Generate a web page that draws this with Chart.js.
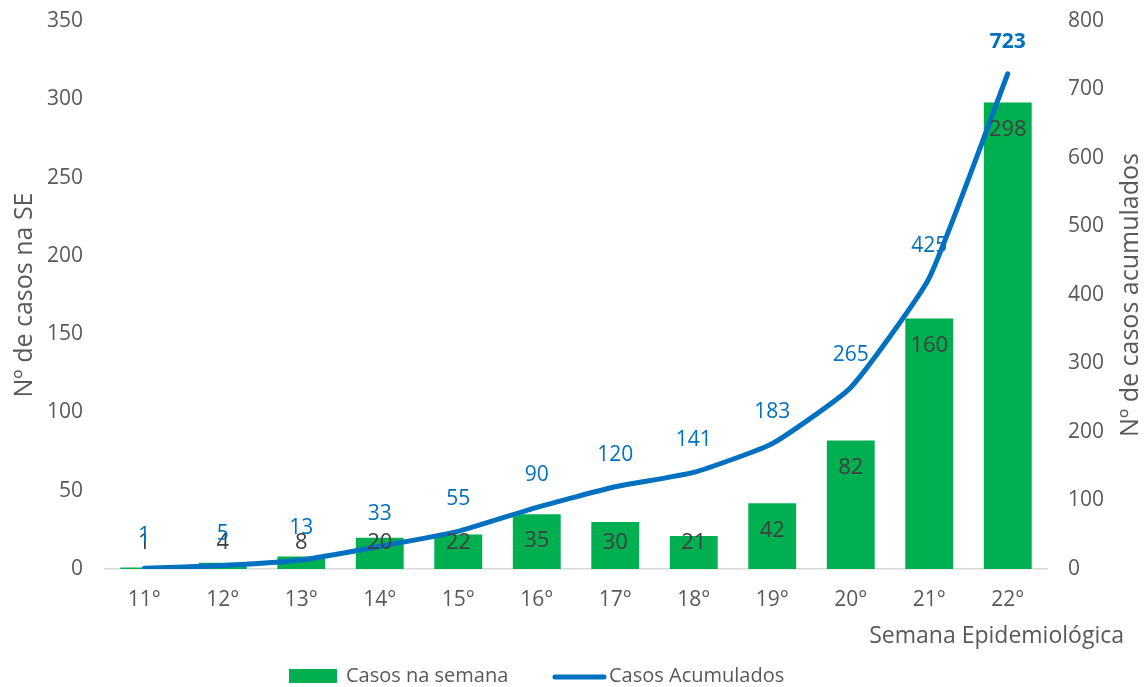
<!DOCTYPE html>
<html lang="pt">
<head>
<meta charset="utf-8">
<title>Casos por semana epidemiológica</title>
<script src="https://cdn.jsdelivr.net/npm/chart.js@4.4.1/dist/chart.umd.min.js"></script>
<style>
  html, body { margin: 0; padding: 0; background: #ffffff; }
  #wrap { width: 1148px; height: 687px; }
</style>
</head>
<body>
<div id="wrap"><canvas id="chart" width="1148" height="687"></canvas></div>
<script>
// Semanas epidemiológicas e casos
const semanas = ['11°', '12°', '13°', '14°', '15°', '16°', '17°', '18°', '19°', '20°', '21°', '22°'];
const casosSemana = [1, 4, 8, 20, 22, 35, 30, 21, 42, 82, 160, 298];
const casosAcumulados = [1, 5, 13, 33, 55, 90, 120, 141, 183, 265, 425, 723];

const FONT = '"Open Sans", "Liberation Sans", sans-serif';
const GREEN = '#00B050';
const BLUE = '#0070C0';
const TEXT = '#595959';
const LABEL_DARK = '#404040';

// Value labels, axis titles and legend drawn on the canvas
const decorations = {
  id: 'decorations',
  afterDatasetsDraw(chart) {
    const ctx = chart.ctx;
    const area = chart.chartArea;
    const barMeta = chart.getDatasetMeta(0);
    const lineMeta = chart.getDatasetMeta(1);
    ctx.save();
    ctx.textAlign = 'center';
    ctx.textBaseline = 'middle';

    // bar labels, just inside the top of each bar
    ctx.font = '22px ' + FONT;
    ctx.fillStyle = LABEL_DARK;
    barMeta.data.forEach((bar, i) => {
      const y = Math.min(bar.y + 27, area.bottom - 26);
      ctx.fillText(String(casosSemana[i]), bar.x, y);
    });

    // cumulative labels, above each point; last one in bold
    ctx.fillStyle = BLUE;
    lineMeta.data.forEach((pt, i) => {
      const last = i === lineMeta.data.length - 1;
      ctx.font = (last ? 'bold ' : '') + '21px ' + FONT;
      ctx.fillText(String(casosAcumulados[i]), pt.x, pt.y - 32);
    });
    ctx.restore();
  },
  afterDraw(chart) {
    const ctx = chart.ctx;
    const area = chart.chartArea;
    const midY = (area.top + area.bottom) / 2;
    ctx.save();
    ctx.fillStyle = TEXT;
    ctx.font = '25px ' + FONT;
    ctx.textBaseline = 'middle';
    ctx.textAlign = 'center';

    // left axis title
    ctx.save();
    ctx.translate(25, midY);
    ctx.rotate(-Math.PI / 2);
    ctx.fillText('Nº de casos na SE', 0, 0);
    ctx.restore();

    // right axis title
    ctx.save();
    ctx.translate(1131, midY);
    ctx.rotate(-Math.PI / 2);
    ctx.fillText('Nº de casos acumulados', 0, 0);
    ctx.restore();

    // x axis title
    ctx.font = '23px ' + FONT;
    ctx.textAlign = 'right';
    ctx.fillText('Semana Epidemiológica', 1124, 636);

    // legend
    const ly = 676;
    ctx.font = '20px ' + FONT;
    ctx.textAlign = 'left';
    ctx.fillStyle = GREEN;
    ctx.fillRect(289, ly - 7, 48, 14);
    ctx.fillStyle = TEXT;
    ctx.fillText('Casos na semana', 346, ly);

    ctx.strokeStyle = BLUE;
    ctx.lineWidth = 5;
    ctx.lineCap = 'round';
    ctx.beginPath();
    ctx.moveTo(555, ly + 1);
    ctx.lineTo(604, ly + 1);
    ctx.stroke();
    ctx.fillText('Casos Acumulados', 609, ly);
    ctx.restore();
  }
};

// fixed axis box sizes so the plot area sits at the same place
function fixVertical(width) {
  return function (scale) {
    scale.width = width;
    scale.paddingTop = 0;
    scale.paddingBottom = 0;
  };
}

new Chart(document.getElementById('chart'), {
  data: {
    labels: semanas,
    datasets: [
      {
        type: 'bar',
        label: 'Casos na semana',
        data: casosSemana,
        backgroundColor: GREEN,
        borderWidth: 0,
        yAxisID: 'y',
        order: 1,
        categoryPercentage: 1,
        barPercentage: 0.61
      },
      {
        type: 'line',
        label: 'Casos Acumulados',
        data: casosAcumulados,
        borderColor: BLUE,
        backgroundColor: BLUE,
        borderWidth: 5,
        borderCapStyle: 'round',
        borderJoinStyle: 'round',
        pointRadius: 0,
        pointHoverRadius: 0,
        tension: 0.15,
        fill: false,
        yAxisID: 'y1',
        order: 0
      }
    ]
  },
  options: {
    responsive: false,
    animation: false,
    layout: { padding: { top: 21, left: 0, right: 0, bottom: 0 } },
    plugins: {
      legend: { display: false },
      tooltip: { enabled: false }
    },
    scales: {
      x: {
        offset: true,
        grid: { display: false, drawTicks: false },
        border: { display: true, color: '#d9d9d9', width: 1.5 },
        ticks: { color: TEXT, font: { family: FONT, size: 21 }, padding: 18, maxRotation: 0 },
        afterFit(scale) {
          scale.height = 118;
          scale.paddingLeft = 0;
          scale.paddingRight = 0;
        }
      },
      y: {
        position: 'left',
        min: 0,
        max: 350,
        grid: { display: false, drawTicks: false },
        border: { display: false },
        ticks: { stepSize: 50, color: TEXT, font: { family: FONT, size: 21 }, padding: 22 },
        afterFit: fixVertical(105)
      },
      y1: {
        position: 'right',
        min: 0,
        max: 800,
        grid: { display: false, drawTicks: false },
        border: { display: false },
        ticks: { stepSize: 100, color: TEXT, font: { family: FONT, size: 21 }, padding: 21 },
        afterFit: fixVertical(101)
      }
    }
  },
  plugins: [decorations]
});
</script>
</body>
</html>
